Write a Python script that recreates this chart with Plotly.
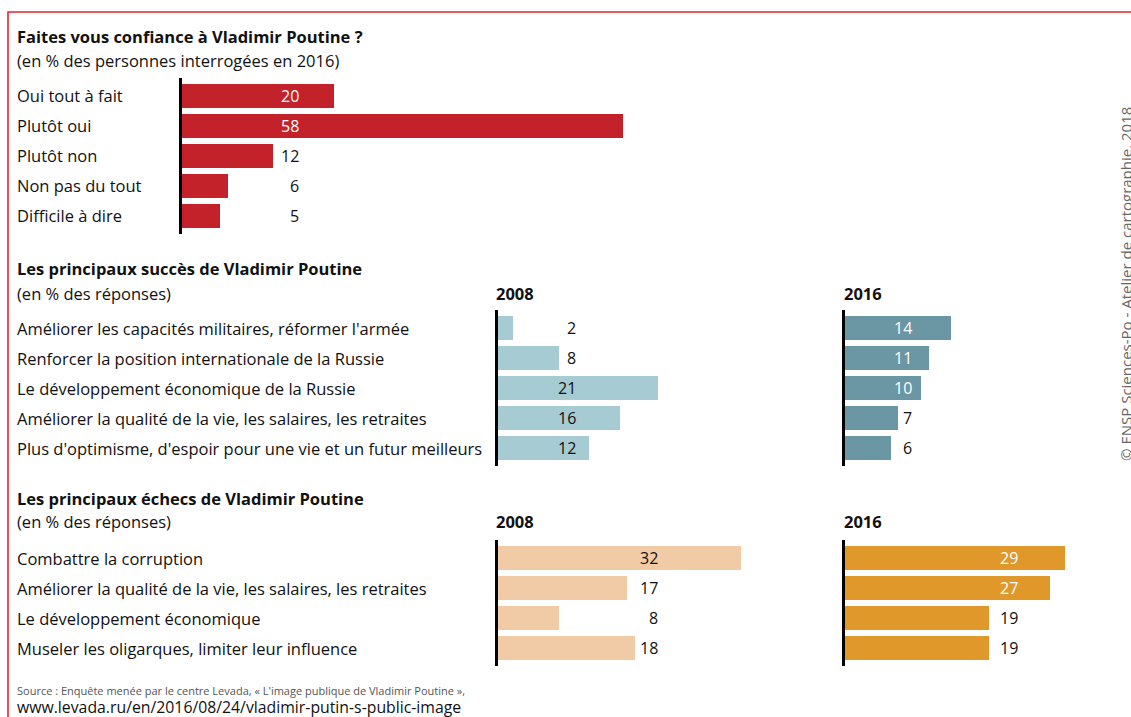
import plotly.graph_objects as go

W, H = 1131, 717
FONT = "Open Sans"

# ---------------- data ----------------
trust_labels = ["Oui tout à fait", "Plutôt oui", "Plutôt non", "Non pas du tout", "Difficile à dire"]
trust_values = [20, 58, 12, 6, 5]

success_labels = [
    "Améliorer les capacités militaires, réformer l'armée",
    "Renforcer la position internationale de la Russie",
    "Le développement économique de la Russie",
    "Améliorer la qualité de la vie, les salaires, les retraites",
    "Plus d'optimisme, d'espoir pour une vie et un futur meilleurs",
]
success_2008 = [2, 8, 21, 16, 12]
success_2016 = [14, 11, 10, 7, 6]

failure_labels = [
    "Combattre la corruption",
    "Améliorer la qualité de la vie, les salaires, les retraites",
    "Le développement économique",
    "Museler les oligarques, limiter leur influence",
]
failure_2008 = [32, 17, 8, 18]
failure_2016 = [29, 27, 19, 19]

# ---------------- layout helpers ----------------
SCALE = 7.6   # px per percentage point
ROW = 30      # px per row
LABEL_SIZE = 16.5
VALUE_SIZE = 16


def px(x):
    return x / W


def py(y):
    return 1 - y / H


panels = [
    dict(sfx="", labels=trust_labels, values=trust_values, x0=182, units=60, top=78,
         lab_px=301, color="#c4222a", dark=True, cats=True),
    dict(sfx="2", labels=success_labels, values=success_2008, x0=498, units=44, top=310,
         lab_px=578, color="#a6cbd2", dark=False, cats=True),
    dict(sfx="3", labels=success_labels, values=success_2016, x0=845, units=36, top=310,
         lab_px=914, color="#6b96a3", dark=True, cats=False),
    dict(sfx="4", labels=failure_labels, values=failure_2008, x0=498, units=44, top=540,
         lab_px=660, color="#f1cba6", dark=False, cats=True),
    dict(sfx="5", labels=failure_labels, values=failure_2016, x0=845, units=36, top=540,
         lab_px=1020, color="#e0982a", dark=True, cats=False),
]

fig = go.Figure()
annotations = []
layout_axes = {}

for p in panels:
    n = len(p["labels"])
    s = p["sfx"]
    xa, ya = "x" + s, "y" + s
    fig.add_trace(go.Bar(
        x=p["values"], y=p["labels"], orientation="h",
        xaxis=xa, yaxis=ya, width=0.77,
        marker=dict(color=p["color"], line=dict(width=0)),
        hoverinfo="x+y", showlegend=False,
    ))
    x_dom = [px(p["x0"]), px(p["x0"] + p["units"] * SCALE)]
    y_dom = [py(p["top"] + (n + 0.2) * ROW), py(p["top"])]
    layout_axes["xaxis" + s] = dict(domain=x_dom, range=[0, p["units"]], visible=False,
                                    anchor=ya, fixedrange=True)
    layout_axes["yaxis" + s] = dict(domain=y_dom, range=[n - 0.4, -0.6], type="category",
                                    categoryorder="array", categoryarray=p["labels"],
                                    showline=True, linecolor="black", linewidth=2.5,
                                    showticklabels=False, ticks="", showgrid=False,
                                    zeroline=False, anchor=xa, fixedrange=True)
    lab_x = (p["lab_px"] - p["x0"]) / SCALE
    for lab, v in zip(p["labels"], p["values"]):
        col = "white" if (p["dark"] and v > lab_x) else "#111111"
        annotations.append(dict(x=lab_x, y=lab, xref=xa, yref=ya, text=str(v),
                                showarrow=False, xanchor="right", yanchor="middle",
                                font=dict(family=FONT, size=VALUE_SIZE, color=col)))
        if p["cats"]:
            annotations.append(dict(x=px(15), y=lab, xref="paper", yref=ya, text=lab,
                                    showarrow=False, xanchor="left", yanchor="middle",
                                    font=dict(family=FONT, size=LABEL_SIZE, color="#111111")))


def heading(text, x, y, bold=False, size=LABEL_SIZE, color="#111111", family=FONT):
    annotations.append(dict(x=px(x), y=py(y), xref="paper", yref="paper",
                            text=f"<b>{text}</b>" if bold else text, showarrow=False,
                            xanchor="left", yanchor="middle",
                            font=dict(family=family, size=size, color=color)))


heading("Faites vous confiance à Vladimir Poutine ?", 15, 37, bold=True)
heading("(en % des personnes interrogées en 2016)", 15, 60)
heading("Les principaux succès de Vladimir Poutine", 15, 269, bold=True)
heading("(en % des réponses)", 15, 293)
heading("2008", 494, 293, bold=True)
heading("2016", 842, 293, bold=True)
heading("Les principaux échecs de Vladimir Poutine", 15, 498, bold=True)
heading("(en % des réponses)", 15, 521)
heading("2008", 494, 521, bold=True)
heading("2016", 842, 521, bold=True)
heading("Source : Enquête menée par le centre Levada, « L'image publique de Vladimir Poutine »,",
        15, 690, size=11, color="#555555")
heading("www.levada.ru/en/2016/08/24/vladimir-putin-s-public-image", 15, 707, size=15.8)

annotations.append(dict(x=px(1126), y=py(284), xref="paper", yref="paper",
                        text="© ENSP Sciences-Po - Atelier de cartographie, 2018",
                        textangle=-90, showarrow=False, xanchor="center", yanchor="middle",
                        font=dict(family=FONT, size=15, color="#666666")))

fig.update_layout(
    width=W, height=H, autosize=False,
    margin=dict(l=0, r=0, t=0, b=0, pad=0),
    paper_bgcolor="white", plot_bgcolor="rgba(0,0,0,0)",
    bargap=0, showlegend=False,
    annotations=annotations,
    shapes=[dict(type="rect", xref="paper", yref="paper",
                 x0=px(8), y0=-0.05, x1=1.05, y1=py(12),
                 line=dict(color="#e3262d", width=1.6), layer="below")],
    **layout_axes,
)

fig.write_html("out.html", config={"displayModeBar": False},
               post_script="document.body.style.margin='0';")
